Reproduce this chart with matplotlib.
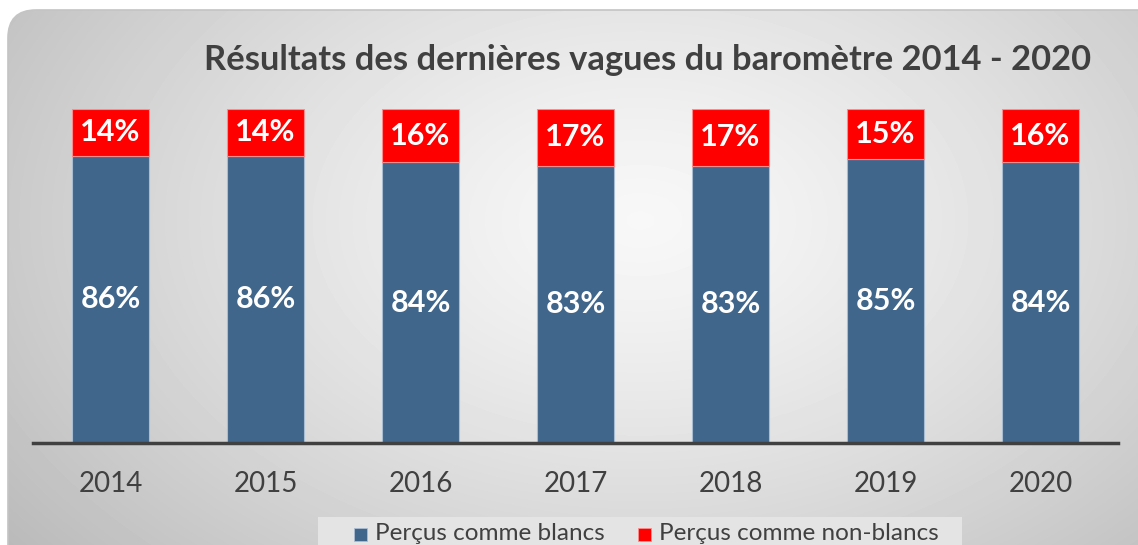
import matplotlib
matplotlib.use("Agg")
import matplotlib.pyplot as plt
import numpy as np
from matplotlib.patches import FancyBboxPatch, Rectangle

# Data
years = ["2014", "2015", "2016", "2017", "2018", "2019", "2020"]
blancs = [86, 86, 84, 83, 83, 85, 84]
non_blancs = [14, 14, 16, 17, 17, 15, 16]

BLUE = "#41668b"
RED = "#ff0000"
TXT = "#404040"

plt.rcParams['font.family'] = ['Lato', 'DejaVu Sans']

W, H = 1138, 545
fig = plt.figure(figsize=(W / 100, H / 100), dpi=100)
fig.patch.set_facecolor("white")

# background: rounded panel with radial gradient
bg = fig.add_axes([0, 0, 1, 1])
bg.set_xlim(0, W)
bg.set_ylim(H, 0)
bg.axis("off")
yy, xx = np.mgrid[0:H, 0:W]
r = np.sqrt(((xx - 640) / 640.0) ** 2 + ((yy - 220) / 420.0) ** 2)
grad = np.clip(0.97 - 0.18 * r ** 1.3, 0.72, 1.0)
im = bg.imshow(grad, cmap="gray", vmin=0, vmax=1, extent=(0, W, H, 0), zorder=0)
panel = FancyBboxPatch((8, 10), W + 40, H + 40,
                       boxstyle="round,pad=0,rounding_size=28",
                       facecolor="none", edgecolor="#c4c4c4", lw=1.2, zorder=1)
bg.add_patch(panel)
im.set_clip_path(panel)

# title
bg.text(648, 60, "Résultats des dernières vagues du baromètre 2014 - 2020",
        ha="center", va="center", fontsize=24.8, fontweight="bold", color=TXT)

# main chart
ax = fig.add_axes([33 / W, (H - 443) / H, (1118 - 33) / W, (443 - 109) / H])
ax.patch.set_alpha(0)
x = np.arange(len(years))
ax.bar(x, blancs, width=0.5, color=BLUE, edgecolor="#a9bdd2", lw=0.8)
ax.bar(x, non_blancs, width=0.5, bottom=blancs, color=RED,
       edgecolor="#ff8c8c", lw=0.8)
for i in range(len(years)):
    ax.text(x[i], blancs[i] / 2, f"{blancs[i]}%", ha="center", va="center",
            color="white", fontsize=22, fontweight="bold")
    ax.text(x[i], blancs[i] + non_blancs[i] / 2, f"{non_blancs[i]}%",
            ha="center", va="center", color="white", fontsize=22,
            fontweight="bold")
ax.set_xlim(-0.5, len(years) - 0.5)
ax.set_ylim(0, 100)
for s in ["top", "right", "left"]:
    ax.spines[s].set_visible(False)
ax.spines["bottom"].set_color("#404040")
ax.spines["bottom"].set_linewidth(2.5)
ax.set_yticks([])
ax.set_xticks(x)
ax.set_xticklabels(years, fontsize=20, color=TXT)
ax.tick_params(axis="x", length=0, pad=20)

# legend
bg.add_patch(Rectangle((318, 517), 644, 40, facecolor="#e4e4e4",
                       edgecolor="none", zorder=2))
bg.add_patch(Rectangle((354, 528), 13, 13, facecolor=BLUE,
                       edgecolor="#a9bdd2", lw=0.6, zorder=3))
bg.text(375, 533, "Perçus comme blancs", ha="left", va="center",
        fontsize=17.5, color=TXT, zorder=3)
bg.add_patch(Rectangle((638, 528), 13, 13, facecolor=RED,
                       edgecolor="#ff8c8c", lw=0.6, zorder=3))
bg.text(659, 533, "Perçus comme non-blancs", ha="left", va="center",
        fontsize=17.5, color=TXT, zorder=3)

fig.savefig("out.png", dpi=100)
